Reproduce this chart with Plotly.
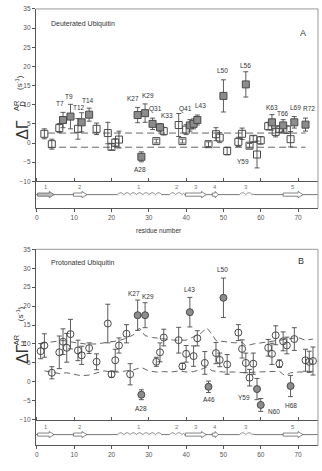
import plotly.graph_objects as go
import numpy as np

# ---------------- data ----------------
# Panel A : deuterated ubiquitin
resA = [2, 4, 6, 7, 9, 11, 12, 14, 16, 19, 20, 21, 22, 27, 28, 29, 31, 32, 33, 34,
        38, 39, 40, 41, 42, 43, 46, 48, 49, 50, 51, 54, 55, 56, 57, 58, 59, 60,
        62, 63, 64, 65, 66, 67, 68, 69, 72]
valA = [2.4, -0.3, 3.9, 6.0, 6.9, 3.7, 5.4, 7.4, 3.7, 2.6, -1.0, 0.1, 0.9, 7.3, -3.6, 7.8,
        5.0, 0.5, 4.1, 3.1, 4.7, 0.5, 3.5, 4.6, 5.0, 6.0, -0.3, 2.3, 1.4, 12.3, -2.1,
        0.3, 2.4, 15.3, -0.7, 1.1, -3.0, 0.7, 4.4, 5.4, 2.9, 3.6, 4.6, 3.5, 1.0, 5.4, 4.8]
errA = [1.3, 1.3, 1.2, 2.0, 3.2, 2.7, 2.5, 1.7, 1.5, 2.8, 0.8, 1.0, 2.2, 2.0, 1.3, 2.4,
        1.5, 0.5, 1.0, 1.0, 3.0, 0.5, 1.3, 1.5, 1.3, 1.3, 0.6, 1.7, 1.3, 4.2, 1.0,
        1.2, 1.5, 3.3, 0.6, 0.8, 3.5, 1.0, 1.0, 2.0, 1.3, 0.8, 1.5, 1.0, 2.0, 1.5, 1.7]
hiA = [7, 9, 12, 14, 27, 28, 29, 31, 33, 41, 42, 43, 50, 56, 63, 66, 69, 72]
thrA = [2.6, -1.1]          # flat dashed limits
thrA_res = [3, 72]

# Panel B : protonated ubiquitin
resB = [1, 2, 4, 6, 7, 8, 9, 11, 12, 14, 16, 19, 20, 21, 22, 24, 25, 27, 28, 29, 32, 33,
        34, 38, 39, 40, 41, 42, 43, 45, 46, 48, 49, 50, 51, 54, 55, 56, 57, 58, 59, 60,
        62, 63, 64, 65, 66, 67, 68, 69, 72, 73, 74]
valB = [8.1, 9.6, 2.4, 7.8, 10.6, 9.0, 12.6, 8.3, 7.0, 8.9, 5.3, 15.4, 2.0, 5.7, 9.6, 12.7,
        2.0, 17.6, -3.4, 17.6, 5.3, 7.8, 11.7, 11.0, 4.1, 7.4, 18.4, 6.8, 11.5, 5.0, -1.3,
        7.6, 5.8, 22.2, 4.6, 13.0, 8.7, 5.0, 1.1, 4.8, -1.9, -6.1, 9.0, 7.4, 12.3, 4.8,
        10.7, 9.6, -1.1, 11.3, 5.7, 5.3, 5.5]
errB = [2.0, 3.1, 1.6, 4.3, 3.4, 3.8, 3.9, 2.7, 2.4, 1.4, 2.1, 5.1, 0.8, 2.9, 2.0, 2.4,
        2.8, 4.0, 1.3, 3.3, 1.2, 2.5, 2.2, 3.4, 0.8, 2.2, 3.9, 2.7, 2.0, 3.0, 1.5,
        2.8, 1.8, 5.2, 2.6, 2.1, 2.4, 2.6, 2.2, 2.8, 2.8, 1.7, 2.2, 2.8, 2.5, 1.0,
        2.5, 2.2, 2.8, 3.0, 2.9, 2.8, 3.7]
hiB = [27, 28, 29, 41, 46, 50, 59, 60, 68]
upB_res = [1, 4, 7, 10, 13, 16, 19, 22, 24, 26, 27.5, 29, 31, 34, 37, 40, 42, 44, 45.5, 47,
           48, 50, 53, 55, 56, 58, 61, 64, 67, 70, 72, 74]
upB_val = [10.2, 10.5, 10.9, 10.4, 10.0, 10.0, 10.4, 10.9, 11.5, 12.5, 14.2, 12.2, 11.7, 11.3,
           11.0, 11.0, 11.9, 12.8, 14.3, 12.5, 10.9, 10.6, 10.3, 10.4, 9.5, 10.0, 10.4, 10.9,
           11.3, 11.7, 11.0, 11.3]
loB_res = [2, 4, 6, 8, 10, 12, 14, 16, 18, 20, 22, 24, 26, 28, 30, 32, 34, 36, 38, 40, 42, 44,
           45.5, 47, 50, 53, 56, 59, 62, 65, 66.5, 68, 70, 72, 74]
loB_val = [2.9, 2.6, 2.2, 2.4, 1.9, 1.6, 1.8, 2.4, 2.9, 2.6, 2.6, 2.9, 3.2, 3.8, 2.9, 2.6, 2.7,
           2.6, 2.9, 2.6, 2.7, 3.3, 3.9, 2.9, 2.6, 2.6, 2.4, 2.6, 2.7, 2.8, 1.6, 2.4, 2.6,
           2.6, 2.8]

# residue labels: (panel, residue, text, side)
labels = [("A", 7, "T7", "up"), ("A", 9, "T9", "up"), ("A", 12, "T12", "up"),
          ("A", 14, "T14", "up"), ("A", 27, "K27", "up"), ("A", 29, "K29", "up"),
          ("A", 31, "Q31", "up"), ("A", 33, "K33", "up"), ("A", 28, "A28", "down"),
          ("A", 41, "Q41", "up"), ("A", 43, "L43", "up"), ("A", 50, "L50", "up"),
          ("A", 56, "L56", "up"), ("A", 63, "K63", "up"), ("A", 66, "T66", "up"),
          ("A", 69, "L69", "up"), ("A", 72, "R72", "up"), ("A", 59, "Y59", "left"),
          ("B", 27, "K27", "up"), ("B", 29, "K29", "up"), ("B", 41, "L43", "up"),
          ("B", 50, "L50", "up"), ("B", 28, "A28", "down"), ("B", 46, "A46", "down"),
          ("B", 59, "Y59", "left"), ("B", 60, "N60", "right"), ("B", 68, "H68", "down")]
label_shift = {("A", "T7"): (-3, 3), ("A", "T9"): (-1, 2), ("A", "T12"): (-3, 0),
               ("A", "T14"): (-1, 2), ("A", "K27"): (-5, 3), ("A", "K29"): (3, 3),
               ("A", "Q31"): (3, 3), ("A", "K33"): (7, 2), ("A", "A28"): (-1, -2),
               ("A", "Q41"): (-4, 5), ("A", "L43"): (3, 4), ("A", "L50"): (-1, 4),
               ("A", "L56"): (0, 1), ("A", "K63"): (0, 2), ("A", "T66"): (0, 1),
               ("A", "L69"): (1, 4), ("A", "R72"): (3, 4), ("A", "Y59"): (-6, -7),
               ("B", "K27"): (-4, 1), ("B", "K29"): (3, 1), ("B", "L43"): (0, 2),
               ("B", "L50"): (-1, 3), ("B", "A28"): (0, -3), ("B", "A46"): (0, -2),
               ("B", "Y59"): (-5, -8), ("B", "N60"): (5, -7), ("B", "H68"): (0, -3)}

# secondary structure (residue ranges)
strands = [(0.2, 4.6, "1"), (9.8, 13.4, "2"), (39.8, 45.4, "3"), (47.0, 48.6, "4"), (66.0, 71.3, "5")]
helices = [(21.6, 33.4, "1"), (35.5, 39.5, "2"), (54.3, 58.0, "3")]
xticks = [0, 10, 20, 30, 40, 50, 60, 70]
yticks = [-10, -5, 0, 5, 10, 15, 20, 25, 30, 35]

# ---------------- layout helpers ----------------
W, H = 322, 471
FONT = "Liberation Sans, Arial, sans-serif"
AX = "#555555"
TXT = "#333333"
MK = "#4a4a4a"
FILL = "#8c8c8c"
XR = [-0.27, 75.35]


def py(p):
    return 1 - p / H


def px(p):
    return p / W


panels = {
    "A": dict(x="x", y="y", x2="x2", y2="y2", main=(5, 180), strip=(180, 207),
              base=0.50, lab=0.78, sub="D", title_y=(115, 95, 70)),
    "B": dict(x="x3", y="y3", x2="x4", y2="y4", main=(249, 422), strip=(422, 448),
              base=0.42, lab=0.70, sub="H", title_y=(367, 348, 324)),
}

fig = go.Figure()


def add_points(res, val, err, hi, xa, ya, sym):
    o = [i for i, r in enumerate(res) if r not in hi]
    f = [i for i, r in enumerate(res) if r in hi]
    for idx, filled in ((o, False), (f, True)):
        fig.add_trace(go.Scatter(
            x=[res[i] for i in idx], y=[val[i] for i in idx], xaxis=xa, yaxis=ya,
            mode="markers",
            error_y=dict(type="data", array=[err[i] for i in idx], color=MK,
                         thickness=0.9, width=2.5),
            marker=dict(symbol=sym if filled else sym + "-open", size=7,
                        color=FILL if filled else MK,
                        line=dict(color=MK, width=1)),
            showlegend=False, hoverinfo="skip"))


# dashed thresholds
for v in thrA:
    fig.add_trace(go.Scatter(x=thrA_res, y=[v, v], xaxis="x", yaxis="y", mode="lines",
                             line=dict(color="#666666", width=1, dash="7px,4px"),
                             showlegend=False, hoverinfo="skip"))
for rr, vv in ((upB_res, upB_val), (loB_res, loB_val)):
    fig.add_trace(go.Scatter(x=rr, y=vv, xaxis="x3", yaxis="y3", mode="lines",
                             line=dict(color="#666666", width=1, dash="6px,4px"),
                             showlegend=False, hoverinfo="skip"))

add_points(resA, valA, errA, hiA, "x", "y", "square")
add_points(resB, valB, errB, hiB, "x3", "y3", "circle")

layout = dict(width=W, height=H, margin=dict(l=0, r=0, t=0, b=0),
              paper_bgcolor="white", plot_bgcolor="white", showlegend=False,
              font=dict(family=FONT, size=7, color=TXT))

shapes = []
annotations = []
for key, p in panels.items():
    xn = p["x"].replace("x", "xaxis")
    yn = p["y"].replace("y", "yaxis")
    x2n = p["x2"].replace("x", "xaxis")
    y2n = p["y2"].replace("y", "yaxis")
    dom_x = [px(35), px(318)]
    layout[xn] = dict(domain=dom_x, range=XR, anchor=p["y"], showline=True, linecolor=AX,
                      linewidth=1, ticks="inside", ticklen=3, tickcolor=AX,
                      tickvals=xticks, showticklabels=False, showgrid=False, zeroline=False)
    layout[yn] = dict(domain=[py(p["main"][1]), py(p["main"][0])], range=[-10, 35],
                      anchor=p["x"], showline=True, linecolor=AX, linewidth=1,
                      ticks="outside", ticklen=3, tickcolor=AX, tickvals=yticks,
                      tickfont=dict(size=6.5, color=AX, family=FONT),
                      showgrid=False, zeroline=False)
    layout[x2n] = dict(domain=dom_x, range=XR, anchor=p["y2"], showline=True, linecolor=AX,
                       linewidth=1, ticks="outside", ticklen=3, tickcolor=AX,
                       tickvals=xticks, tickfont=dict(size=6.5, color=AX, family=FONT),
                       showgrid=False, zeroline=False)
    layout[y2n] = dict(domain=[py(p["strip"][1]), py(p["strip"][0])], range=[0, 1],
                       anchor=p["x2"], showline=True, linecolor=AX, linewidth=1,
                       showticklabels=False, ticks="", showgrid=False, zeroline=False)
    # light frame top/right
    top, bot = p["main"][0], p["strip"][1]
    shapes.append(dict(type="line", xref="paper", yref="paper", x0=px(35), x1=px(318),
                       y0=py(top), y1=py(top), line=dict(color="#9a9a9a", width=1)))
    shapes.append(dict(type="line", xref="paper", yref="paper", x0=px(318), x1=px(318),
                       y0=py(top), y1=py(bot), line=dict(color="#9a9a9a", width=1)))
    # secondary structure strip
    b = p["base"]
    shapes.append(dict(type="line", xref=p["x2"], yref=p["y2"], x0=XR[0], x1=XR[1],
                       y0=b, y1=b, line=dict(color=AX, width=0.8), layer="below"))
    hb, hh = 0.06, 0.12
    for (s0, s1, name) in strands:
        hl = min(1.3, (s1 - s0) * 0.5)
        xh = s1 - hl
        path = (f"M{s0},{b - hb} L{xh},{b - hb} L{xh},{b - hh} L{s1},{b} "
                f"L{xh},{b + hh} L{xh},{b + hb} L{s0},{b + hb} Z")
        fc = "#bdbdbd" if (key == "A" and name == "1") else "white"
        shapes.append(dict(type="path", xref=p["x2"], yref=p["y2"], path=path,
                           fillcolor=fc, line=dict(color="#666666", width=0.8)))
        annotations.append(dict(x=(s0 + s1) / 2, y=p["lab"], xref=p["x2"], yref=p["y2"],
                                text=name, showarrow=False,
                                font=dict(size=6, color="#777777", family=FONT)))
    for (h0, h1, name) in helices:
        xs = np.linspace(h0, h1, 60)
        ys = b + 0.07 * np.abs(np.sin(np.pi * (xs - h0) / 1.7))
        path = "M" + " L".join(f"{a:.3f},{c:.4f}" for a, c in zip(xs, ys))
        shapes.append(dict(type="path", xref=p["x2"], yref=p["y2"], path=path,
                           line=dict(color="#666666", width=0.8)))
        shapes.append(dict(type="line", xref=p["x2"], yref=p["y2"], x0=h0, x1=h1,
                           y0=b, y1=b, line=dict(color="white", width=1.5), layer="below"))
        annotations.append(dict(x=(h0 + h1) / 2, y=p["lab"], xref=p["x2"], yref=p["y2"],
                                text=name, showarrow=False,
                                font=dict(size=6, color="#777777", family=FONT)))
    # y-axis title pieces
    ty_big, ty_sup, ty_unit = p["title_y"]
    annotations += [
        dict(xref="paper", yref="paper", x=px(11), y=py(ty_big), textangle=-90,
             showarrow=False, text="ΔΓ", font=dict(size=16, color=TXT, family=FONT)),
        dict(xref="paper", yref="paper", x=px(8.5), y=py(ty_sup), textangle=-90,
             showarrow=False, text="AR", font=dict(size=7.5, color=TXT, family=FONT)),
        dict(xref="paper", yref="paper", x=px(15.5), y=py(ty_sup + 1), textangle=-90,
             showarrow=False, text=p["sub"], font=dict(size=7.5, color=TXT, family=FONT)),
        dict(xref="paper", yref="paper", x=px(11.5), y=py(ty_unit), textangle=-90,
             showarrow=False, text="(s<sup>-1</sup>)",
             font=dict(size=8, color=TXT, family=FONT)),
    ]

# residue labels
data = {"A": (resA, valA, errA, "x", "y"), "B": (resB, valB, errB, "x3", "y3")}
for (pn, r, txt, side) in labels:
    rr, vv, ee, xa, ya = data[pn]
    i = rr.index(r)
    dx, dy = label_shift[(pn, txt)]
    a = dict(xref=xa, yref=ya, x=r, text=txt, showarrow=False, xshift=dx, yshift=dy,
             font=dict(size=6.5, color=TXT, family=FONT))
    if side == "up":
        a.update(y=vv[i] + ee[i], yanchor="bottom")
    elif side == "down":
        a.update(y=vv[i] - ee[i], yanchor="top")
    elif side == "left":
        a.update(y=vv[i], xanchor="right", yanchor="middle")
    else:
        a.update(y=vv[i], xanchor="left", yanchor="middle")
    annotations.append(a)

# texts
annotations += [
    dict(xref="paper", yref="paper", x=px(48), y=py(20), xanchor="left", yanchor="middle",
         text="Deuterated Ubiquitin", showarrow=False, font=dict(size=7, color=TXT)),
    dict(xref="paper", yref="paper", x=px(48), y=py(263), xanchor="left", yanchor="middle",
         text="Protonated Ubiquitin", showarrow=False, font=dict(size=7, color=TXT)),
    dict(xref="paper", yref="paper", x=px(308), y=py(22), text="A", showarrow=False,
         font=dict(size=9, color=TXT)),
    dict(xref="paper", yref="paper", x=px(306), y=py(261), text="B", showarrow=False,
         font=dict(size=9, color=TXT)),
    dict(xref="paper", yref="paper", x=px(158), y=py(230), text="residue number",
         showarrow=False, font=dict(size=6.5, color=TXT)),
]

layout["shapes"] = shapes
layout["annotations"] = annotations
fig.update_layout(**layout)
fig.write_html("out.html")
